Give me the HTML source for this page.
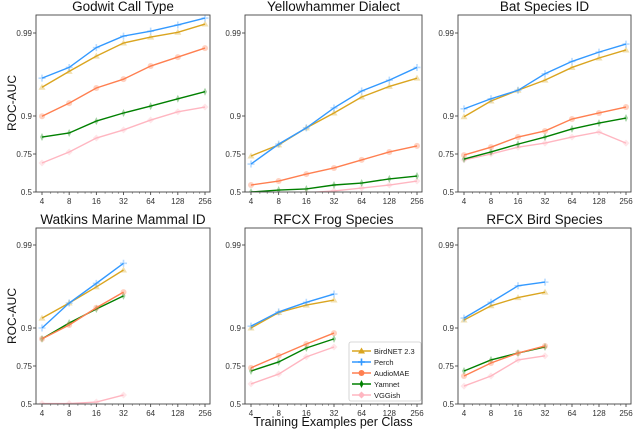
<!DOCTYPE html>
<html><head><meta charset="utf-8"><style>
html,body{margin:0;padding:0;background:#fff;}
svg{display:block;font-family:"Liberation Sans","DejaVu Sans",sans-serif;}
</style></head><body>
<svg id="chart" width="640" height="430" viewBox="0 0 640 430"></svg>
<script>
const xCats = [4, 8, 16, 32, 64, 128, 256];
const yTicks = [0.5, 0.75, 0.9, 0.99];
const yTickLabels = ["0.5", "0.75", "0.9", "0.99"];
const seriesNames = ["BirdNET 2.3", "Perch", "AudioMAE", "Yamnet", "VGGish"];
const panelTitles = ["Godwit Call Type", "Yellowhammer Dialect", "Bat Species ID", "Watkins Marine Mammal ID", "RFCX Frog Species", "RFCX Bird Species"];
// values per panel: [BirdNET, Perch, AudioMAE, Yamnet, VGGish]
const godwit = [
  [0.955,0.971,0.981,0.9868,0.9888,0.9902,0.9922],
  [0.965,0.974,0.985,0.9891,0.9905,0.992,0.9934],
  [0.899,0.930,0.954,0.964,0.975,0.9805,0.9848],
  [0.817,0.833,0.880,0.908,0.924,0.938,0.949],
  [0.691,0.758,0.813,0.845,0.884,0.911,0.922]];
const yellowhammer = [
  [0.737,0.786,0.853,0.908,0.941,0.956,0.965],
  [0.684,0.789,0.853,0.920,0.950,0.963,0.974],
  [0.546,0.572,0.618,0.658,0.711,0.758,0.782],
  [0.500,0.513,0.520,0.546,0.559,0.586,0.605],
  [0.47,0.485,0.495,0.507,0.526,0.546,0.572]];
const bat = [
  [0.897,0.934,0.951,0.963,0.974,0.980,0.984],
  [0.918,0.938,0.951,0.969,0.978,0.983,0.9864],
  [0.743,0.777,0.817,0.841,0.888,0.908,0.922],
  [0.717,0.758,0.789,0.817,0.849,0.872,0.892],
  [0.711,0.750,0.777,0.793,0.817,0.837,0.793]];
const watkins = [
  [0.924,0.950,0.968,0.980],
  [0.900,0.950,0.971,0.9834],
  [0.857,0.908,0.943,0.963],
  [0.857,0.913,0.941,0.959],
  [0.503,0.503,0.513,0.559]];
const frog = [
  [0.900,0.935,0.947,0.954],
  [0.905,0.936,0.951,0.961],
  [0.738,0.790,0.837,0.880],
  [0.717,0.766,0.821,0.857],
  [0.632,0.697,0.786,0.825]];
const birds = [
  [0.920,0.946,0.957,0.963],
  [0.924,0.951,0.969,0.972],
  [0.684,0.762,0.801,0.829],
  [0.717,0.774,0.801,0.825],
  [0.618,0.684,0.774,0.790]];
const panelData = [godwit, yellowhammer, bat, watkins, frog, birds];

const colors = ["#DAA520","#3399FF","#FF7F50","#008000","#FFB6C1"];
const NS = "http://www.w3.org/2000/svg";
const svg = document.getElementById("chart");
function mk(tag, attrs, parent){const e=document.createElementNS(NS,tag);for(const k in attrs)e.setAttribute(k,attrs[k]);(parent||svg).appendChild(e);return e;}

const cols = [[36,210],[245,422],[458,631]];
const rows = [[15,192],[228,404]];

function yScale(v, bottom){
  // piecewise scale: 38px per tick step below 0.9, 83px per decade of (1-v) above
  if (v <= 0.75) return bottom - 38*(v-0.5)/0.25;
  if (v <= 0.9) return bottom - 38 - 38*(v-0.75)/0.15;
  const d = -Math.log10(1-v) - 1;
  return bottom - 76 - 83*d;
}
function xScale(c, l, r){
  const step=(r-l-11)/6;
  return l+6+step*Math.log2(c/4);
}
function marker(g, k, x, y, op){
  const c=colors[k];
  let m;
  if(k===0) m=mk("polygon",{points:`${x},${y-3.5} ${x-3.5},${y+2.5} ${x+3.5},${y+2.5}`,fill:c,"fill-opacity":op},g);
  else if(k===1){m=mk("path",{d:`M${x-3.5},${y}H${x+3.5}M${x},${y-3.5}V${y+3.5}`,stroke:c,"stroke-width":1.6,"stroke-opacity":op,fill:"none"},g);}
  else if(k===2) m=mk("circle",{cx:x,cy:y,r:3,fill:c,"fill-opacity":op},g);
  else if(k===3) m=mk("polygon",{points:`${x},${y-4} ${x-2},${y} ${x},${y+4} ${x+2},${y}`,fill:c,"fill-opacity":op},g);
  else m=mk("polygon",{points:`${x},${y-3.5} ${x-3.5},${y} ${x},${y+3.5} ${x+3.5},${y}`,fill:c,"fill-opacity":op},g);
  return m;
}

const defs=mk("defs",{});
panelData.forEach((data,p)=>{
  const [l,r]=cols[p%3], [t,b]=rows[Math.floor(p/3)];
  const g=mk("g",{});
  
  
  const cp=mk("clipPath",{id:"cp"+p},defs);
  mk("rect",{x:l,y:t,width:r-l,height:b-t},cp);
  const title=mk("text",{x:(l+r)/2,y:t-4,"text-anchor":"middle","font-size":13.5,fill:"#111"},g);
  title.textContent=panelTitles[p];
  
  
  // y ticks
  yTicks.forEach((v,i)=>{
    const y=yScale(v,b);
    mk("line",{x1:l-3,x2:l,y1:y,y2:y,stroke:"#333","stroke-width":0.8},g);
    const tx=mk("text",{x:l-4,y:y+3,"text-anchor":"end","font-size":8,fill:"#333"},g);
    tx.textContent=yTickLabels[i];
    
    
  });
  // x ticks
  xCats.forEach((c,i)=>{
    const x=xScale(c,l,r);
    mk("line",{x1:x,x2:x,y1:b,y2:b+3,stroke:"#333","stroke-width":0.8},g);
    if(i<6){for(let m=1.25;m<2;m+=0.25){const xm=xScale(c*m,l,r);mk("line",{x1:xm,x2:xm,y1:b,y2:b+1.8,stroke:"#555","stroke-width":0.6},g);}}
    const tx=mk("text",{x:x,y:b+12,"text-anchor":"middle","font-size":8,fill:"#333"},g);
    tx.textContent=String(c);
    
    
  });
  const pg=mk("g",{"clip-path":`url(#cp${p})`},g);
  [4,3,2,0,1].forEach(k=>{
    const vals=data[k];
    const pts=vals.map((v,i)=>[xScale(xCats[i],l,r),yScale(v,b)]);
    pts.forEach(([x,y])=>marker(pg,k,x,y,0.35));
    const pl=mk("polyline",{points:pts.map(q=>q.join(",")).join(" "),fill:"none",stroke:colors[k],"stroke-width":1.4},pg);
    
    
  });
  const frame=mk("rect",{x:l,y:t,width:r-l,height:b-t,fill:"none",stroke:"#444","stroke-width":0.9},g);
  
  
});

// axis labels
[103,316].forEach(cy=>{
  const yl=mk("text",{x:0,y:0,transform:`translate(16,${cy}) rotate(-90)`,"text-anchor":"middle","font-size":12,fill:"#111"});
  yl.textContent="ROC-AUC";
  
  
});
const xl=mk("text",{x:333,y:426,"text-anchor":"middle","font-size":12.5,fill:"#111"});
xl.textContent="Training Examples per Class";



// legend
const lg=mk("g",{});


mk("rect",{x:349,y:342,width:72,height:59,fill:"#fff",stroke:"#ccc","stroke-width":0.8,rx:2},lg);
seriesNames.forEach((n,k)=>{
  const y=351+k*11;
  const e=mk("g",{},lg);
  
  
  mk("line",{x1:352,x2:371,y1:y,y2:y,stroke:colors[k],"stroke-width":1.4},e);
  marker(e,k,361.5,y,1);
  const tx=mk("text",{x:374,y:y+3,"font-size":7.5,fill:"#222"},e);
  tx.textContent=n;
});
</script>
</body></html>
